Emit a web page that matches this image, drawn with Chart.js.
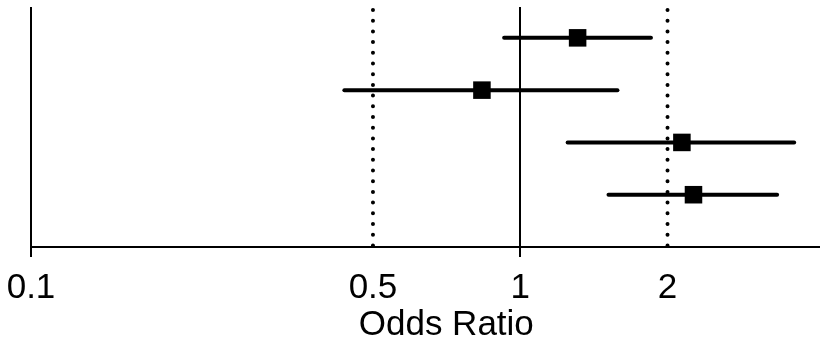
<!DOCTYPE html>
<html>
<head>
<meta charset="utf-8">
<script src="https://cdn.jsdelivr.net/npm/chart.js@4.4.1/dist/chart.umd.min.js"></script>
<style>
  html, body { margin: 0; padding: 0; background: #fff; }
  #wrap { width: 827px; height: 344px; }
</style>
</head>
<body>
<div id="wrap"><canvas id="forest"></canvas></div>
<script>
// --- data ---
const rows = [1, 2, 3, 4];
const oddsRatio = [1.31, 0.835, 2.14, 2.26];
const ciLow = [0.927, 0.437, 1.25, 1.515];
const ciHigh = [1.85, 1.58, 3.63, 3.35];
const tickValues = [0.1, 0.5, 1, 2];
const refLines = [0.5, 2];
const xTitle = "Odds Ratio";

const X_MIN = 0.1, X_MAX = 4.08;
const Y_MIN = 0.41, Y_MAX = 5;
const FONT = "'Liberation Sans', Arial, sans-serif";

// build datasets
const datasets = [];

// dotted reference lines
refLines.forEach(v => {
  datasets.push({
    type: "line",
    data: [{ x: v, y: Y_MIN }, { x: v, y: Y_MAX }],
    borderColor: "#000",
    borderWidth: 4,
    borderDash: [0, 10.7],
    borderDashOffset: -3,
    borderCapStyle: "round",
    pointRadius: 0
  });
});

// confidence intervals
rows.forEach((r, i) => {
  datasets.push({
    type: "line",
    data: [{ x: ciLow[i], y: r }, { x: ciHigh[i], y: r }],
    borderColor: "#000",
    borderWidth: 4,
    borderCapStyle: "round",
    pointRadius: 0
  });
});

// point estimates
datasets.push({
  type: "scatter",
  data: rows.map((r, i) => ({ x: oddsRatio[i], y: r })),
  pointStyle: "rect",
  pointRadius: 12.4,
  backgroundColor: "#000",
  borderColor: "#000",
  borderWidth: 0
});

// axis title, sits a bit right of centre in the original
const titlePlugin = {
  id: "xTitle",
  afterDraw(chart) {
    const { ctx, chartArea } = chart;
    ctx.save();
    ctx.font = "35px " + FONT;
    ctx.fillStyle = "#000";
    ctx.textAlign = "center";
    ctx.textBaseline = "alphabetic";
    ctx.fillText(xTitle, chartArea.left + 0.527 * (chartArea.right - chartArea.left), chartArea.bottom + 88);
    ctx.restore();
  }
};

new Chart(document.getElementById("forest"), {
  type: "scatter",
  data: { datasets },
  plugins: [titlePlugin],
  options: {
    responsive: true,
    maintainAspectRatio: false,
    animation: false,
    layout: { autoPadding: false, padding: { left: 31, right: 8, top: 7, bottom: 25 } },
    plugins: { legend: { display: false }, tooltip: { enabled: false } },
    scales: {
      x: {
        type: "logarithmic",
        min: X_MIN,
        max: X_MAX,
        afterBuildTicks: s => { s.ticks = tickValues.map(v => ({ value: v })); },
        ticks: {
          color: "#000",
          font: { family: FONT, size: 35, lineHeight: 1.6 },
          padding: 3,
          maxRotation: 0,
          autoSkip: false,
          callback: v => String(v)
        },
        grid: {
          color: c => (c.tick && (c.tick.value === 1 || c.tick.value === 0.1)) ? "#000" : "rgba(0,0,0,0)",
          lineWidth: 2,
          tickLength: 10
        },
        border: { display: true, color: "#000", width: 2 }
      },
      y: {
        type: "linear",
        min: Y_MIN,
        max: Y_MAX,
        reverse: true,
        display: false
      }
    }
  }
});
</script>
</body>
</html>
